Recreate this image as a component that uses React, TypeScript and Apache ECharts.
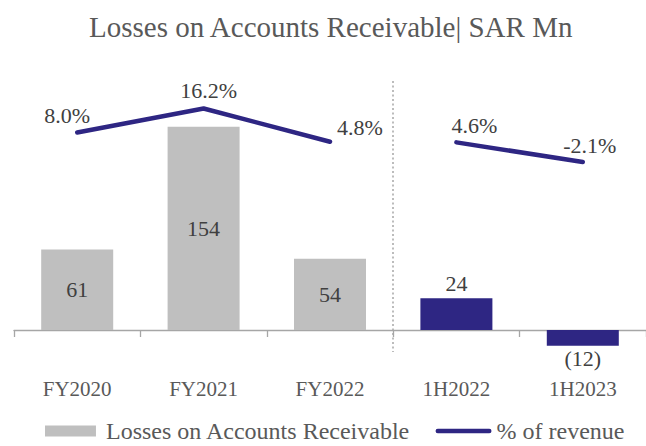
import React, { useEffect, useRef } from "react";
import * as echarts from "echarts";

const categories = ["FY2020", "FY2021", "FY2022", "1H2022", "1H2023"];
const losses = [61, 154, 54, 24, -12];
const pctFullYear = [8.0, 16.2, 4.8, null, null];
const pctHalfYear = [null, null, null, 4.6, -2.1];
const pctLabelOffsets = [[-10, 0], [5, -1], [30, 2], [18, 0], [7, 0]];
const barPositions = ["inside", "inside", "inside", "top", "bottom"];

const FONT = "'Liberation Serif', 'Times New Roman', serif";
const GRAY = "#BFBFBF";
const NAVY = "#2E2683";
const TEXT = "#404040";

export default function App() {
  const ref = useRef<HTMLDivElement>(null);
  useEffect(() => {
    document.body.style.margin = "0";
    const chart = echarts.init(ref.current!, null, { renderer: "svg" });
    const barData = losses.map((v, i) => ({
      value: v,
      itemStyle: { color: i >= 3 ? NAVY : GRAY },
      label: { position: barPositions[i] as any, distance: i === 4 ? 2 : 4 },
    }));
    const mkLine = (arr: (number | null)[]) =>
      arr.map((v, i) =>
        v === null
          ? "-"
          : { value: v, label: { offset: pctLabelOffsets[i] } }
      );
    const lineCommon = {
      type: "line" as const,
      name: "% of revenue",
      yAxisIndex: 1,
      symbol: "circle",
      symbolSize: 1,
      showSymbol: true,
      itemStyle: { color: NAVY },
      lineStyle: { color: NAVY, width: 4.5, cap: "round", join: "round" },
      label: {
        show: true,
        position: "top",
        distance: 5,
        color: TEXT,
        fontSize: 22,
        fontFamily: FONT,
        formatter: (p: any) => Number(p.value).toFixed(1) + "%",
      },
      z: 5,
    };
    chart.setOption({
      animation: false,
      textStyle: { fontFamily: FONT },
      title: {
        text: "Losses on Accounts Receivable| SAR Mn",
        left: 84,
        top: 7,
        textStyle: { fontFamily: FONT, fontSize: 29, fontWeight: "normal", color: "#595959" },
      },
      legend: {
        left: 40,
        top: 419,
        padding: [0, 5],
        itemWidth: 56,
        itemHeight: 11,
        itemGap: 25,
        textStyle: { fontFamily: FONT, fontSize: 24, color: "#595959" },
        data: [
          {
            name: "Losses on Accounts Receivable",
            icon: "path://M0,0H51V11H0Z M56,11h0.01v0.01h-0.01Z",
          },
          {
            name: "% of revenue",
            icon: "path://M0,0h0.01v0.01h-0.01Z M0,11h0.01v0.01h-0.01Z M2.25,3.25H53.75A2.25,2.25 0 0 1 53.75,7.75H2.25A2.25,2.25 0 0 1 2.25,3.25Z",
            itemStyle: { color: NAVY },
          },
        ],
      },
      grid: { left: 14, right: 0, top: 70, bottom: 86, containLabel: false, outerBoundsMode: "none" },
      xAxis: {
        type: "category",
        data: categories,
        boundaryGap: true,
        axisLine: { onZero: true, onZeroAxisIndex: 0, lineStyle: { color: "#A6A6A6", width: 1.3 } },
        axisTick: { show: true, length: 7, interval: 0, lineStyle: { color: "#A6A6A6", width: 1.3 } },
        axisLabel: { margin: 18, fontSize: 21, color: "#595959", fontFamily: FONT, interval: 0 },
      },
      yAxis: [
        { type: "value", min: -22.73, max: 196.97, show: false, splitLine: { show: false } },
        { type: "value", min: -69.93, max: 29.38, show: false, splitLine: { show: false } },
      ],
      graphic: [
        {
          type: "line",
          shape: { x1: 393, y1: 81, x2: 393, y2: 352 },
          style: { stroke: "#A6A6A6", lineWidth: 1.5, lineDash: [2, 2.5] },
          z: 1,
        },
      ],
      series: [
        {
          type: "bar",
          name: "Losses on Accounts Receivable",
          data: barData,
          barWidth: 72,
          itemStyle: { color: GRAY },
          label: {
            show: true,
            color: TEXT,
            fontSize: 22,
            fontFamily: FONT,
            formatter: (p: any) => (p.value < 0 ? `(${-p.value})` : `${p.value}`),
          },
        },
        { ...lineCommon, data: mkLine(pctFullYear) },
        { ...lineCommon, data: mkLine(pctHalfYear) },
      ],
    });
    return () => chart.dispose();
  }, []);
  return <div ref={ref} style={{ width: 646, height: 446 }} />;
}
